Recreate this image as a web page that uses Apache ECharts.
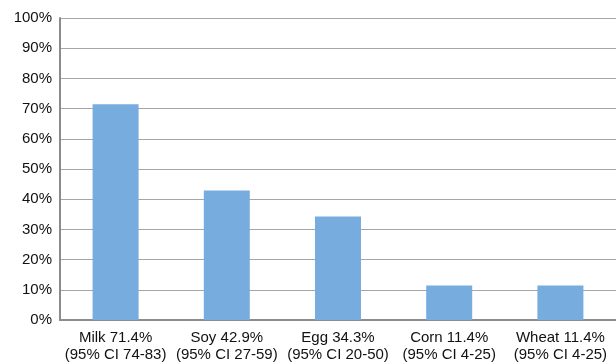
<!DOCTYPE html>
<html>
<head>
<meta charset="utf-8">
<script src="https://cdn.jsdelivr.net/npm/echarts@6/dist/echarts.min.js"></script>
<style>
html,body{margin:0;padding:0;background:#fff;}
#main{width:616px;height:363px;}
</style>
</head>
<body>
<div id="main"></div>
<script>
var categories = ['Milk 71.4%\n(95% CI 74-83)', 'Soy 42.9%\n(95% CI 27-59)', 'Egg 34.3%\n(95% CI 20-50)', 'Corn 11.4%\n(95% CI 4-25)', 'Wheat 11.4%\n(95% CI 4-25)'];
var values = [71.4, 42.9, 34.3, 11.4, 11.4];

var myChart = echarts.init(document.getElementById('main'));
var option = {
	animation: false,
	grid: { left: 60, right: 0, top: 18, bottom: 42 },
	xAxis: {
		type: 'category',
		data: categories,
		axisTick: { show: false },
		axisLine: { lineStyle: { color: '#8c8c8c', width: 2 } },
		axisLabel: {
			interval: 0,
			color: '#111',
			fontSize: 15,
			fontFamily: 'Liberation Sans',
			lineHeight: 17,
			margin: 9
		}
	},
	yAxis: {
		type: 'value',
		min: 0,
		max: 100,
		interval: 10,
		axisLine: { show: true, lineStyle: { color: '#8c8c8c', width: 2 } },
		axisTick: { show: false },
		splitLine: { lineStyle: { color: '#a6a6a6', width: 1 } },
		axisLabel: {
			formatter: '{value}%',
			color: '#111',
			fontSize: 15,
			fontFamily: 'Liberation Sans',
			margin: 8
		}
	},
	series: [{
		type: 'bar',
		data: values,
		barWidth: 46,
		itemStyle: { color: '#77acdf' }
	}]
};
myChart.setOption(option);
</script>
</body>
</html>
